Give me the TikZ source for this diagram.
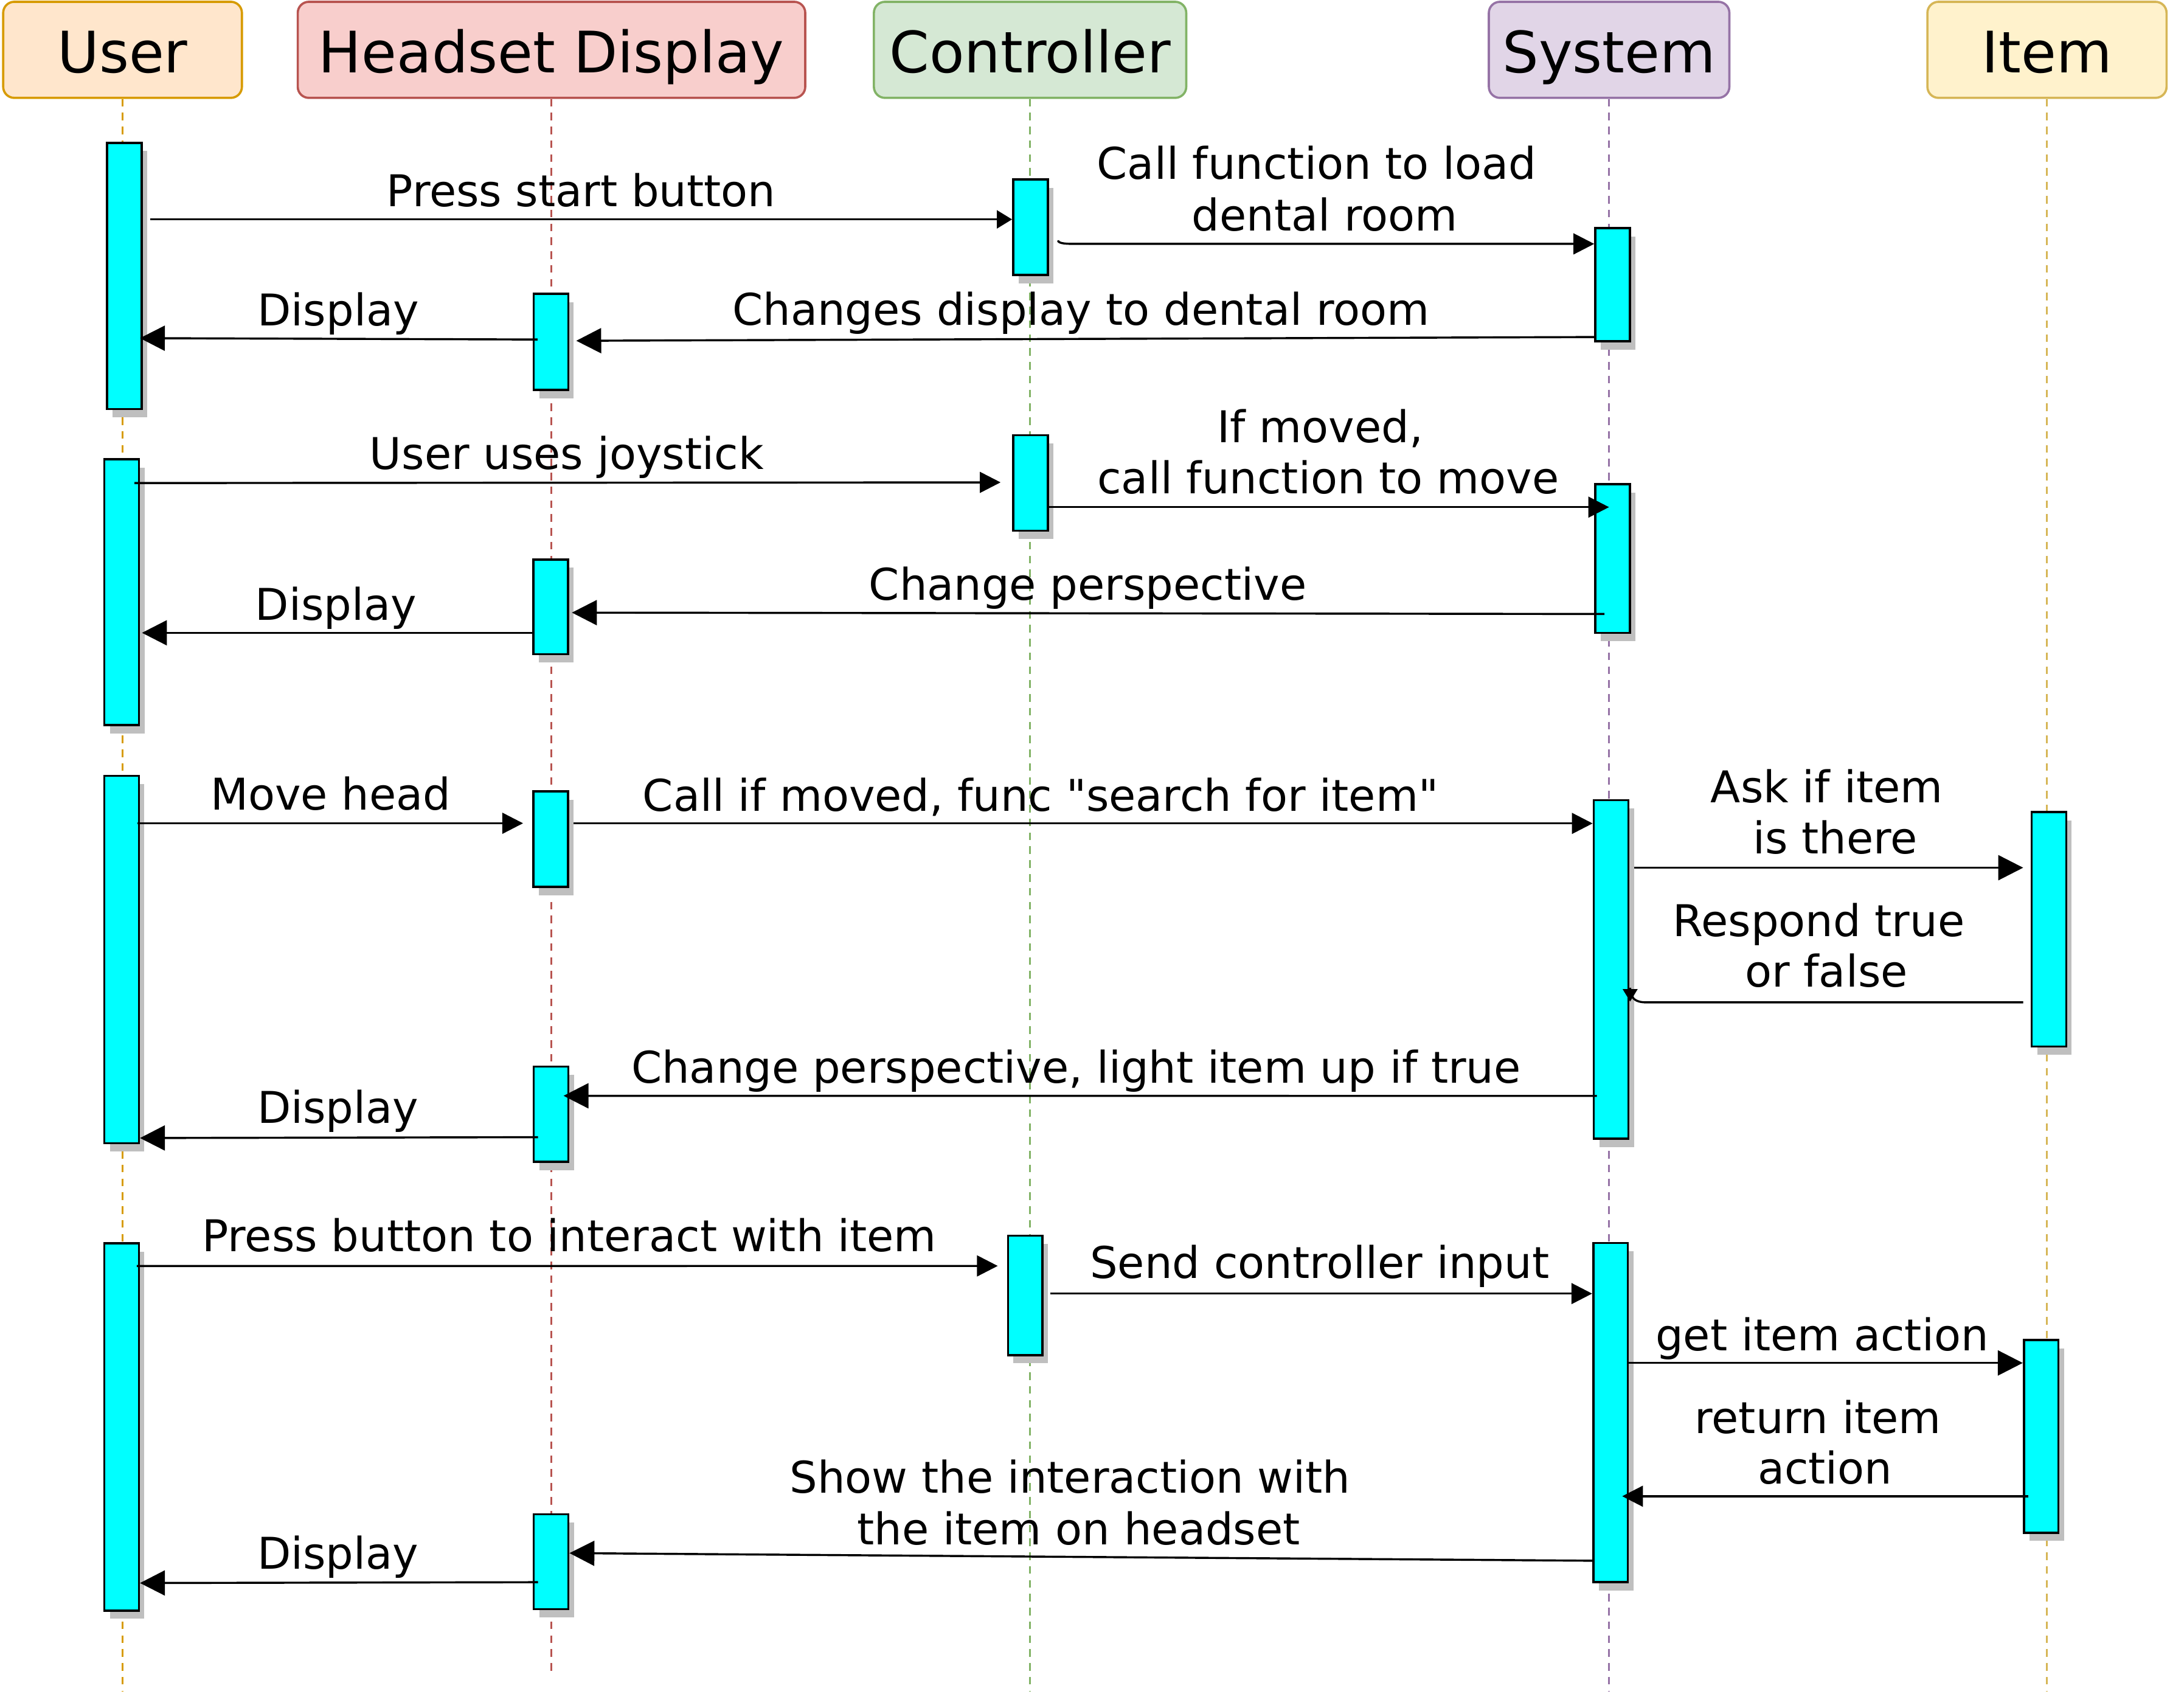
\documentclass[tikz,border=0pt]{standalone}
\usepackage{fontspec}
\setmainfont{DejaVu Sans}
\usetikzlibrary{arrows.meta,calc,shadows}
\definecolor{userF}{HTML}{FFE6CC}\definecolor{userS}{HTML}{D79B00}
\definecolor{headF}{HTML}{F8CECC}\definecolor{headS}{HTML}{B85450}
\definecolor{ctrlF}{HTML}{D5E8D4}\definecolor{ctrlS}{HTML}{82B366}
\definecolor{sysF}{HTML}{E1D5E7}\definecolor{sysS}{HTML}{9673A6}
\definecolor{itemF}{HTML}{FFF2CC}\definecolor{itemS}{HTML}{D6B656}
\definecolor{barF}{HTML}{00FFFF}
\newcommand\straightq{\XeTeXglyph\XeTeXcharglyph"22\relax}
\begin{document}
\begin{tikzpicture}[x=1pt,y=-1pt,
  hdr/.style={draw, rounded corners=8pt, line width=1.6pt, text height=33pt, text depth=0pt,
    inner sep=0pt, minimum height=69.4pt, font=\fontsize{41.3}{50}\selectfont},
  life/.style={line width=1.2pt, dash pattern=on 5.5pt off 4.5pt},
  bar/.style={draw=black, fill=barF, line width=1.6pt, inner sep=0pt, minimum width=25pt,
    drop shadow={shadow xshift=4pt, shadow yshift=-6pt, fill=black!25, opacity=1}},
  msg/.style={line width=1.5pt, -{Triangle[length=15pt,width=15pt]}},
  msgB/.style={line width=1.5pt, -{Triangle[length=18pt,width=18pt]}},
  lbl/.style={anchor=base, inner sep=0pt, font=\fontsize{31.6}{37}\selectfont}]
\useasboundingbox[fill=white] (0,0) rectangle (1568,1234);

% headers
\node[hdr, draw=userS, fill=userF, minimum width=172.5pt] (hu) at (88.55,36) {User};
\node[hdr, draw=headS, fill=headF, minimum width=366.7pt] (hh) at (398.5,36) {Headset Display};
\node[hdr, draw=ctrlS, fill=ctrlF, minimum width=225.7pt] (hc) at (744.3,36) {Controller};
\node[hdr, draw=sysS, fill=sysF, minimum width=173.8pt] (hs) at (1162.7,36) {System};
\node[hdr, draw=itemS, fill=itemF, minimum width=172.8pt] (hi) at (1479.1,36) {Item};

% lifelines
\draw[life, draw=userS] (hu.south) -- (hu.south |- 0,1222);
\draw[life, draw=headS] (hh.south) -- (hh.south |- 0,1207);
\draw[life, draw=ctrlS] (hc.south) -- (hc.south |- 0,1222);
\draw[life, draw=sysS] (hs.south) -- (hs.south |- 0,1222);
\draw[life, draw=itemS] (hi.south) -- (hi.south |- 0,1222);

% activation bars
\node[bar, minimum height=192.3pt] (u1) at (89.8,199.35) {};
\node[bar, minimum height=192.1pt] (u2) at (87.9,427.85) {};
\node[bar, minimum height=265.5pt] (u3) at (87.85,693.25) {};
\node[bar, minimum height=265.4pt] (u4) at (87.85,1030.9) {};
\node[bar, minimum height=69.4pt] (h1) at (398.1,247) {};
\node[bar, minimum height=68.4pt] (h2) at (397.95,438.4) {};
\node[bar, minimum height=69pt] (h3) at (397.95,606.3) {};
\node[bar, minimum height=68.7pt] (h4) at (398.2,804.95) {};
\node[bar, minimum height=68.6pt] (h5) at (398.2,1128.3) {};
\node[bar, minimum height=69pt] (c1) at (744.6,164.2) {};
\node[bar, minimum height=69pt] (c2) at (744.6,349) {};
\node[bar, minimum height=86.3pt] (c3) at (740.85,935.85) {};
\node[bar, minimum height=81.6pt] (s1) at (1165.25,205.7) {};
\node[bar, minimum height=107.4pt] (s2) at (1165.25,403.5) {};
\node[bar, minimum height=244.7pt] (s3) at (1164.1,700.45) {};
\node[bar, minimum height=244.9pt] (s4) at (1163.75,1020.55) {};
\node[bar, minimum height=169.4pt] (i1) at (1480.5,671.4) {};
\node[bar, minimum height=139.1pt] (i2) at (1474.9,1037.75) {};

% labels
\node[lbl] (t1) at (420,149) {Press start button};
\node[lbl] (t2a) at (951.4,129.5) {Call function to load};
\node[lbl] (t2b) at (957.2,166.6) {dental room};
\node[lbl] (t3) at (781,235) {Changes display to dental room};
\node[lbl] (t4) at (244.4,235.4) {Display};
\node[lbl] (t5) at (409.5,338.9) {User uses joystick};
\node[lbl] (t6a) at (954,319.5) {If moved,};
\node[lbl] (t6b) at (959.7,356.6) {call function to move};
\node[lbl] (t7) at (786,433.5) {Change perspective};
\node[lbl] (t8) at (242.8,448.2) {Display};
\node[lbl] (t9) at (238.9,585) {Move head};
\node[lbl] (t10) at (751.9,586.2) {Call if moved, func \straightq search for item\straightq};
\node[lbl] (t11a) at (1320,580) {Ask if item};
\node[lbl] (t11b) at (1326.2,616.7) {is there};
\node[lbl] (t12a) at (1314.2,676.5) {Respond true};
\node[lbl] (t12b) at (1319.7,712.8) {or false};
\node[lbl] (t13) at (777.6,782.4) {Change perspective, light item up if true};
\node[lbl] (t14) at (244.2,811.4) {Display};
\node[lbl] (t15) at (411.5,904) {Press button to interact with item};
\node[lbl] (t16) at (953.5,923.6) {Send controller input};
\node[lbl] (t17) at (1316.6,975.7) {get item action};
\node[lbl] (t18a) at (1313.6,1035.5) {return item};
\node[lbl] (t18b) at (1318.7,1072.2) {action};
\node[lbl] (t19a) at (773.2,1078.6) {Show the interaction with};
\node[lbl] (t19b) at (779.5,1115.9) {the item on headset};
\node[lbl] (t20) at (244.2,1133.5) {Display};

% messages
\draw[line width=1.5pt, -{Triangle[length=11pt,width=13pt]}]
  ($(u1.east|-0,158.5)+(5.6,0)$) -- (c1.west|-0,158.5);
\draw[msg] ($(c1.east|-0,173.7)+(6.6,0)$) .. controls +(0,2.5) and +(-5,0) .. ++(12.5,2.5) -- (s1.west|-0,176.2);
\draw[msgB] (s1.west|-0,243.5) -- ($(h1.east|-0,246.2)+(5,0)$);
\draw[msgB] ($(h1.west|-0,245.3)+(3.6,0)$) -- ($(u1.east|-0,244.3)+(-2,0)$);
\draw[msg] ($(u2.east|-0,349)+(-4,0)$) -- ($(c2.west|-0,348.5)+(-8.3,0)$);
\draw[msg] (c2.east|-0,366.4) -- ($(s2.west|-0,366.4)+(10.7,0)$);
\draw[msgB] ($(s2.west|-0,443.6)+(7.4,0)$) -- ($(h2.east|-0,442.6)+(2,0)$);
\draw[msgB] (h2.west|-0,457.2) -- ($(u2.east|-0,457.2)+(1.4,0)$);
\draw[msg] ($(u3.east|-0,594.8)+(-1.8,0)$) -- ($(h3.west|-0,594.8)+(-6.7,0)$);
\draw[msg] ($(h3.east|-0,594.9)+(3.3,0)$) -- (s3.west|-0,594.9);
\draw[msgB] ($(s3.east|-0,626.9)+(3.3,0)$) -- ($(i1.west|-0,626.9)+(-5.3,0)$);
\draw[line width=1.5pt, {Triangle[length=9pt,width=10.5pt]}-]
  ($(s3.east|-0,723.6)+(0.5,0)$) -- ++(0,-10) .. controls +(0,8) and +(-8,0) .. ++(12,10.6)
  -- ($(i1.west|-0,724.2)+(-5.3,0)$);
\draw[msgB] ($(s3.west|-0,791.8)+(3.1,0)$) -- ($(h4.east|-0,791.7)+(-4.3,0)$);
\draw[msgB] ($(h4.west|-0,821.6)+(3.9,0)$) -- (u3.east|-0,822.2);
\draw[msg] ($(u4.east|-0,914.7)+(-2.3,0)$) -- ($(c3.west|-0,914.6)+(-6.6,0)$);
\draw[msg] ($(c3.east|-0,934.6)+(4.6,0)$) -- (s4.west|-0,934.6);
\draw[msgB] ($(s4.east|-0,984.7)+(-1.3,0)$) -- (i2.west|-0,984.7);
\draw[msg] ($(i2.west|-0,1081)+(4.2,0)$) -- ($(s4.east|-0,1081)+(-4.9,0)$);
\draw[msgB] (s4.west|-0,1127.6) -- (h5.east|-0,1122.1);
\draw[msgB] ($(h5.west|-0,1143.1)+(3.9,0)$) -- (u4.east|-0,1143.7);
\end{tikzpicture}
\end{document}
